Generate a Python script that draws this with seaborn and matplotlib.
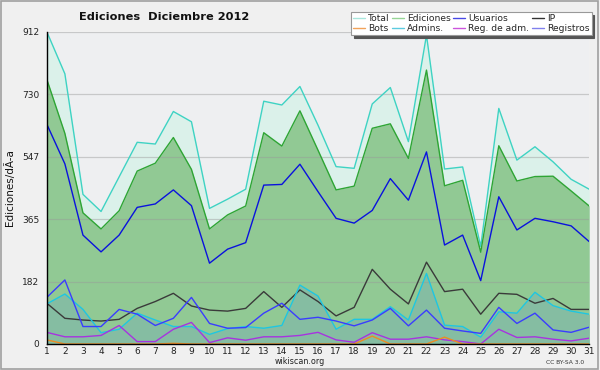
import matplotlib
matplotlib.use("Agg")
import matplotlib.pyplot as plt
import seaborn as sns
import numpy as np
from matplotlib.lines import Line2D
from matplotlib.patches import Rectangle
from matplotlib.ticker import FixedLocator, MultipleLocator

# daily values, December 2012
days = list(range(1, 32))
total = [912, 789, 437, 387, 488, 589, 584, 679, 649, 396, 423, 452, 709, 698, 752, 639,
         518, 513, 701, 749, 591, 902, 511, 517, 285, 688, 537, 576, 532, 481, 452]
ediciones = [773, 615, 383, 336, 389, 505, 528, 603, 510, 336, 377, 403, 617, 578, 681, 566,
             450, 461, 630, 643, 542, 800, 462, 478, 268, 579, 476, 489, 490, 447, 403]
usuarios = [642, 526, 318, 269, 318, 399, 409, 450, 404, 236, 277, 296, 464, 466, 525, 445,
            367, 353, 390, 483, 420, 561, 289, 318, 185, 430, 333, 367, 357, 345, 299]
ip = [119, 75, 70, 67, 72, 104, 124, 148, 111, 99, 96, 104, 153, 107, 158, 124,
      82, 107, 218, 160, 117, 239, 153, 160, 87, 148, 145, 119, 133, 101, 101]
admins = [117, 146, 101, 33, 43, 90, 70, 51, 51, 28, 45, 51, 46, 54, 172, 140,
          43, 72, 72, 109, 70, 206, 55, 51, 20, 94, 90, 151, 112, 96, 87]
registros = [136, 187, 51, 51, 101, 87, 54, 75, 136, 60, 46, 48, 90, 119, 72, 78,
             67, 53, 70, 104, 53, 99, 46, 38, 31, 107, 60, 90, 41, 34, 49]
reg_adm = [34, 21, 21, 25, 54, 7, 7, 43, 63, 4, 18, 11, 21, 21, 25, 34,
           12, 5, 33, 14, 14, 21, 12, 7, 0, 43, 19, 21, 14, 9, 17]
bots = [12, 0, 0, 0, 0, 0, 0, 2, 0, 0, 0, 0, 0, 0, 0, 0,
        0, 0, 23, 0, 0, 0, 20, 0, 0, 0, 0, 0, 0, 0, 0]

y_major = [0, 182.4, 364.8, 547.2, 729.6, 912]
y_labels = ["0", "182", "365", "547", "730", "912"]

sns.set_style("white")
plt.rcParams['font.family'] = ['DejaVu Sans']

fig = plt.figure(figsize=(6, 3.7), dpi=100, facecolor='#f0f0f0')
ax = fig.add_axes([0.078, 0.0703, 0.904, 0.844])
ax.set_facecolor('#eeeff1')

# filled areas
ax.fill_between(days, 0, total, color='#dbf1ea', linewidth=0, zorder=0.6)
ax.fill_between(days, 0, ediciones, color='#91c994', linewidth=0, zorder=0.7)
ax.fill_between(days, 0, admins, color='#85bda2', linewidth=0, zorder=0.8)

series = [
    (total, '#3ed3c3', 1.0),
    (ediciones, '#2ea534', 1.0),
    (usuarios, '#0a12dd', 1.0),
    (ip, '#3a3a3a', 1.0),
    (admins, '#1ec6e2', 1.0),
    (registros, '#3a3cff', 1.0),
    (reg_adm, '#a733e0', 1.0),
    (bots, '#ee8a22', 1.0),
]
for vals, col, lw in series:
    sns.lineplot(x=days, y=vals, ax=ax, color=col, linewidth=lw)

ax.set_xlim(1, 31)
ax.set_ylim(0, 912)
ax.set_xticks(days)
ax.set_xticklabels([str(d) for d in days])
ax.yaxis.set_major_locator(FixedLocator(y_major))
ax.set_yticklabels(y_labels)
ax.yaxis.set_minor_locator(MultipleLocator(45.6))
ax.tick_params(axis='both', which='major', labelsize=6.5, colors='#222222', length=4,
               width=0.8, pad=1.5)
ax.tick_params(axis='y', which='minor', length=2.5, width=0.8, color='#222222')
ax.tick_params(axis='x', which='major', length=2, pad=0.5)
ax.set_axisbelow('line')
ax.grid(axis='y', which='major', color='#999999', alpha=0.45, linewidth=0.9)
ax.grid(axis='x', visible=False)
for s in ['top', 'right']:
    ax.spines[s].set_visible(False)
for s in ['left', 'bottom']:
    ax.spines[s].set_color('black')
    ax.spines[s].set_linewidth(1.0)

ax.set_ylabel("Ediciones/dÃ-a", fontsize=7.5, labelpad=4, color='#111111')
ax.yaxis.set_label_coords(-0.058, 0.5)

fig.text(0.273, 0.953, "Ediciones  Diciembre 2012", fontsize=8.2, fontweight='bold',
         ha='center', va='center', color='#111111')
fig.text(0.5, 0.022, "wikiscan.org", fontsize=5.8, ha='center', va='center', color='#222222')
fig.text(0.942, 0.021, "CC BY-SA 3.0", fontsize=4.3, ha='center', va='center', color='#333333')

# legend (column-major order for 4 columns)
leg_names = ["Total", "Bots", "Ediciones", "Admins.", "Usuarios", "Reg. de adm.", "IP", "Registros"]
leg_colors = ['#a8e6dc', '#f2a35a', '#96d596', '#5ccbe0', '#4848e6', '#cc55dd', '#333333', '#8080ee']
handles = [Line2D([0], [0], color=c, linewidth=1.0) for c in leg_colors]
leg = fig.legend(handles, leg_names, ncol=4, loc='upper right', bbox_to_anchor=(0.986, 0.968),
                 fontsize=6.6, frameon=True, fancybox=False, shadow={'color': '#555555', 'alpha': 1},
                 handlelength=1.3, handletextpad=0.35, columnspacing=0.25, labelspacing=0.1,
                 borderpad=0.25, borderaxespad=0)
leg.get_frame().set_edgecolor('#999999')
leg.get_frame().set_linewidth(0.8)
leg.get_frame().set_facecolor('white')

# figure border
fig.patches.append(Rectangle((0.002, 0.003), 0.994, 0.994, transform=fig.transFigure,
                             fill=False, edgecolor='#a0a0a0', linewidth=1.2))

fig.savefig("out.png", dpi=100, facecolor=fig.get_facecolor())
